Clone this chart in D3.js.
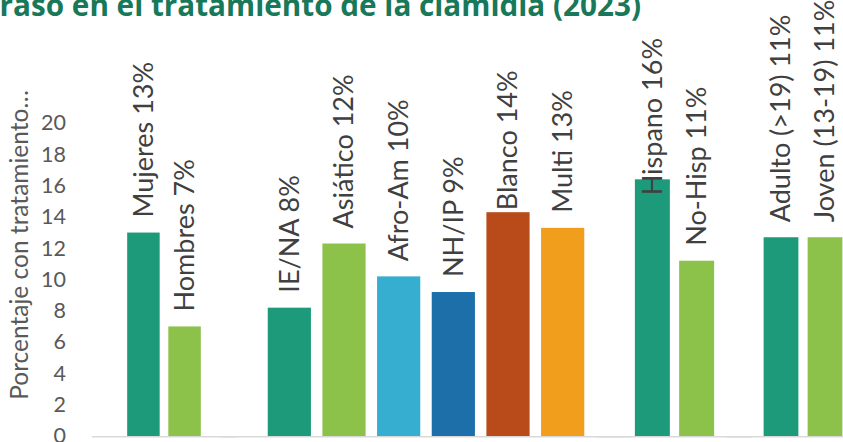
<!DOCTYPE html>
<html>
<head>
<meta charset="utf-8">
<script src="https://cdn.jsdelivr.net/npm/d3@7"></script>
<style>
  body { margin: 0; background: #fff; }
  svg { display: block; }
</style>
</head>
<body>
<svg id="chart"></svg>
<script>
const width = 843, height = 442;

// data
const categories = ["Mujeres", "Hombres", "IE/NA", "Asiático", "Afro-Am", "NH/IP", "Blanco", "Multi",
  "Hispano", "No-Hisp", "Adulto (>19)", "Joven (13-19)"];
const values = [13.0, 7.0, 8.2, 12.3, 10.2, 9.2, 14.3, 13.3, 16.4, 11.2, 12.7, 12.7];
const pctLabels = ["13%", "7%", "8%", "12%", "10%", "9%", "14%", "13%", "16%", "11%", "11%", "11%"];
const groupOf = [0, 0, 1, 1, 1, 1, 1, 1, 2, 2, 3, 3];
const yTicks = [0, 2, 4, 6, 8, 10, 12, 14, 16, 18, 20];

const colors = {
  "Mujeres": "#1d9a7a", "Hombres": "#8cc14a",
  "IE/NA": "#1d9a7a", "Asiático": "#8cc14a", "Afro-Am": "#36aecf", "NH/IP": "#1d6faa",
  "Blanco": "#b84b19", "Multi": "#f09e1c",
  "Hispano": "#1d9a7a", "No-Hisp": "#8cc14a",
  "Adulto (>19)": "#1d9a7a", "Joven (13-19)": "#8cc14a"
};

// each sub-chart has its own x range (they sit side by side)
const panelRanges = [[92, 236], [221, 631], [597, 752], [726, 880]];
// labels that were hand-moved in the original
const labelNudge = { "Blanco": 13, "Hispano": 31 };

const data = categories.map((c, i) => ({ name: c, value: values[i], pct: pctLabels[i], group: groupOf[i] }));

const svg = d3.select("#chart").attr("width", width).attr("height", height);

const y = d3.scaleLinear().domain([0, 20]).range([436, 123]);

// Title (cut off on the left as in the source)
svg.append("text")
  .attr("x", 641)
  .attr("y", 16)
  .attr("text-anchor", "end")
  .style("font-family", "'Open Sans', sans-serif")
  .style("font-weight", 700)
  .style("font-size", "29.7px")
  .style("fill", "#17785a")
  .text("Retraso en el tratamiento de la clamidia (2023)");

// y axis title
svg.append("text")
  .attr("transform", "translate(28,245) rotate(-90)")
  .attr("text-anchor", "middle")
  .style("font-family", "Lato, sans-serif")
  .style("font-size", "24.5px")
  .style("fill", "#595959")
  .text("Porcentaje con tratamiento…");

// y ticks
const yAxis = svg.append("g")
  .attr("transform", "translate(66,0)")
  .call(d3.axisLeft(y).tickValues(yTicks).tickSize(0).tickPadding(0));
yAxis.select(".domain").remove();
yAxis.selectAll("text")
  .style("font-family", "Lato, sans-serif")
  .style("font-size", "21.5px")
  .style("fill", "#595959");

// panels
d3.range(4).forEach(g => {
  const rows = data.filter(d => d.group === g);
  const x = d3.scaleBand()
    .domain(rows.map(d => d.name))
    .range(panelRanges[g])
    .paddingInner(0.21)
    .paddingOuter(0.855);

  const panel = svg.append("g");

  panel.append("line")
    .attr("x1", panelRanges[g][0])
    .attr("x2", panelRanges[g][1])
    .attr("y1", y(0) + 0.75)
    .attr("y2", y(0) + 0.75)
    .attr("stroke", "#d9d9d9")
    .attr("stroke-width", 1.5);

  panel.selectAll("rect")
    .data(rows)
    .join("rect")
      .attr("x", d => x(d.name))
      .attr("y", d => y(d.value))
      .attr("width", x.bandwidth())
      .attr("height", d => y(0) - y(d.value))
      .attr("fill", d => colors[d.name]);

  panel.selectAll("text.lbl")
    .data(rows)
    .join("text")
      .attr("class", "lbl")
      .attr("transform", d => {
        const cx = x(d.name) + x.bandwidth() / 2;
        const cy = y(d.value) - 15 + (labelNudge[d.name] || 0);
        return `translate(${cx},${cy}) rotate(-90)`;
      })
      .attr("dy", "0.35em")
      .style("font-family", "Lato, sans-serif")
      .style("font-size", "27px")
      .style("fill", "#404040")
      .text(d => `${d.name} ${d.pct}`);
});
</script>
</body>
</html>
